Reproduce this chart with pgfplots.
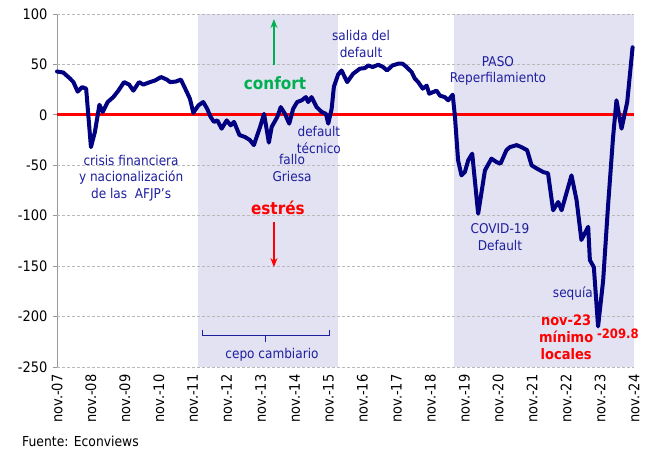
\documentclass[border=0pt]{standalone}
\usepackage{fontspec}
\setmainfont{DejaVu Sans}[FakeStretch=0.9]
\usepackage{pgfplots}
\pgfplotsset{compat=1.18}
\usetikzlibrary{arrows.meta}
\definecolor{navyline}{RGB}{0,0,128}
\definecolor{annot}{RGB}{30,30,160}
\definecolor{shadecol}{RGB}{226,226,242}
\definecolor{okgreen}{RGB}{0,176,80}
\begin{document}
\begin{tikzpicture}
\path[use as bounding box] (-57bp,-83bp) rectangle (600bp,367bp);
\begin{axis}[
  at={(0,0)}, anchor=south west,
  scale only axis, width=577bp, height=353bp,
  xmin=0, xmax=204, ymin=-250, ymax=100,
  clip=false,
  xtick={0,12,...,204},
  xticklabels={nov.-07,nov.-08,nov.-09,nov.-10,nov.-11,nov.-12,nov.-13,nov.-14,nov.-15,nov.-16,nov.-17,nov.-18,nov.-19,nov.-20,nov.-21,nov.-22,nov.-23,nov.-24},
  ytick={-250,-200,...,100},
  axis x line*=bottom, axis y line*=left,
  x axis line style={draw=none},
  y axis line style={draw=gray!80, line width=0.8bp},
  tick align=outside,
  major tick length=4bp,
  xtick style={draw=none},
  ytick style={draw=gray!80, line width=0.8bp},
  /pgf/number format/assume math mode=true,
  tick label style={font=\fontsize{14.5}{17}\selectfont, black},
  xticklabel style={rotate=90, anchor=east},
  yticklabel style={xshift=-2bp},
]
\fill[shadecol] (axis cs:49.8,-250) rectangle (axis cs:99.3,100);
\fill[shadecol] (axis cs:140.3,-250) rectangle (axis cs:204,100);
\pgfplotsinvokeforeach{-250,-200,-150,-100,-50,50,100}{
  \addplot[gray!55, dash pattern=on 3bp off 2bp, line width=0.8bp, forget plot] coordinates {(0,#1) (204,#1)};
}
\addplot[red, line width=3.2bp, forget plot] coordinates {(0,0) (204,0)};
\addplot[navyline, line width=4bp, line join=round, line cap=round] coordinates {
(0,43)(2.2,42)(4.6,36)(5.8,32.5)(7.3,23)(8.9,27.5)(10.3,26)(12.0,-32)(13.4,-17)(15.0,10)(16.2,3)(17.9,12.7)(19.9,17.6)(21.7,24)(23.7,32.5)(25.5,30)(27.0,24)(29.0,32.5)(30.5,30)(32.9,32.5)(34.6,34)(36.8,37.5)(38.8,35)(40.0,32.5)(42.0,33)(43.8,35)(45.9,22.6)(47.0,16)(48.2,2)(50.0,9.4)(51.7,12.7)(53.1,6)(54.3,-2)(55.5,-7)(56.7,-5.5)(58.2,-13.7)(60.0,-5.5)(61.4,-10.4)(62.6,-7)(64.5,-20)(66.5,-22)(68.2,-25)(69.6,-30)(71.8,-12)(73.2,1)(74.9,-27.5)(75.9,-12)(77.9,-2)(79.1,7.7)(80.6,1)(82.1,-8.7)(83.5,6)(84.9,12.7)(86.5,14.4)(88.0,17.6)(88.8,12.7)(90.0,17.6)(91.8,7.7)(93.6,2.8)(95.1,1)(95.9,-8.7)(97.1,6)(97.9,28)(99.4,40)(100.6,44)(102.6,32.5)(104.7,40.8)(107.1,45.8)(108.9,46.4)(110.0,49)(111.6,47.4)(113.6,49.7)(115.3,47.4)(116.7,44)(118.6,49)(120.6,50.7)(122.2,50.7)(123.6,47.4)(125.4,42.4)(126.5,36)(127.7,32.5)(129.3,26)(130.7,29)(131.6,21)(133.0,22.6)(134.2,24)(135.4,19)(137.1,17.6)(138.3,14.4)(139.9,20)(140.7,-2)(141.8,-45)(143.0,-60)(144.2,-56.7)(145.4,-45)(146.8,-38.5)(148.9,-98)(151.3,-55)(153.6,-43.4)(155.4,-46.8)(156.8,-48.4)(158.9,-35)(160.1,-32)(162.5,-30)(164.2,-32)(166.2,-35)(167.8,-50)(169.5,-53)(171.9,-56.7)(173.6,-58)(175.4,-94.6)(177.2,-86.4)(178.4,-94.6)(181.9,-60)(183.7,-84.7)(185.4,-124)(187.8,-111)(188.4,-144)(189.8,-151)(191.3,-209.8)(193.1,-164)(194.8,-91)(196.6,-22)(197.8,14.4)(199.6,-13.7)(201.6,12.7)(203.5,67)
};
% annotations
\begin{scope}[every node/.style={font=\fontsize{13.5}{16.5}\selectfont, text=annot, align=center, inner sep=0pt}]
\node at (axis cs:26.2,-62.7) {crisis financiera\\y nacionalización\\de las~~AFJP's};
\node at (axis cs:83.1,-52.7) {fallo\\Griesa};
\node at (axis cs:92.6,-25) {default\\técnico};
\node at (axis cs:107.5,70.2) {salida del\\default};
\node at (axis cs:155.9,43.4) {PASO\\Reperfilamiento};
\node at (axis cs:156.6,-121.2) {COVID-19\\Default};
\node at (axis cs:182.4,-176.7) {sequía};
\node at (axis cs:76,-238) {cepo cambiario};
\end{scope}
\node[font=\bfseries\fontsize{17}{20}\selectfont, text=okgreen, inner sep=0pt] at (axis cs:77.1,31.5) {confort};
\node[font=\bfseries\fontsize{17}{20}\selectfont, text=red, inner sep=0pt] at (axis cs:78.1,-92.4) {estrés};
\node[font=\bfseries\fontsize{14.5}{17}\selectfont, text=red, align=center, inner sep=0pt] at (axis cs:180,-220.3) {nov-23\\mínimo\\locales};
\node[font=\bfseries\fontsize{13}{16}\selectfont, text=red, inner sep=0pt] at (axis cs:198.3,-217.3) {-209.8};
\draw[okgreen, line width=1.2bp, -{Stealth[length=9bp,width=7bp]}] (axis cs:76.7,49.4) -- (axis cs:76.7,95);
\draw[red, line width=1.2bp, -{Stealth[length=9bp,width=7bp]}] (axis cs:76.7,-106.3) -- (axis cs:76.7,-150.9);
\draw[annot, line width=1bp] (axis cs:51.3,-213.3) -- (axis cs:51.3,-218.3) -- (axis cs:96.2,-218.3) -- (axis cs:96.2,-213.3);
\draw[annot, line width=1bp] (axis cs:73.7,-218.3) -- (axis cs:73.7,-225.2);
\end{axis}
\node[anchor=west, font=\fontsize{13.8}{16}\selectfont, inner sep=0pt] at (-35bp,-74bp) {Fuente: Econviews};
\end{tikzpicture}
\end{document}
